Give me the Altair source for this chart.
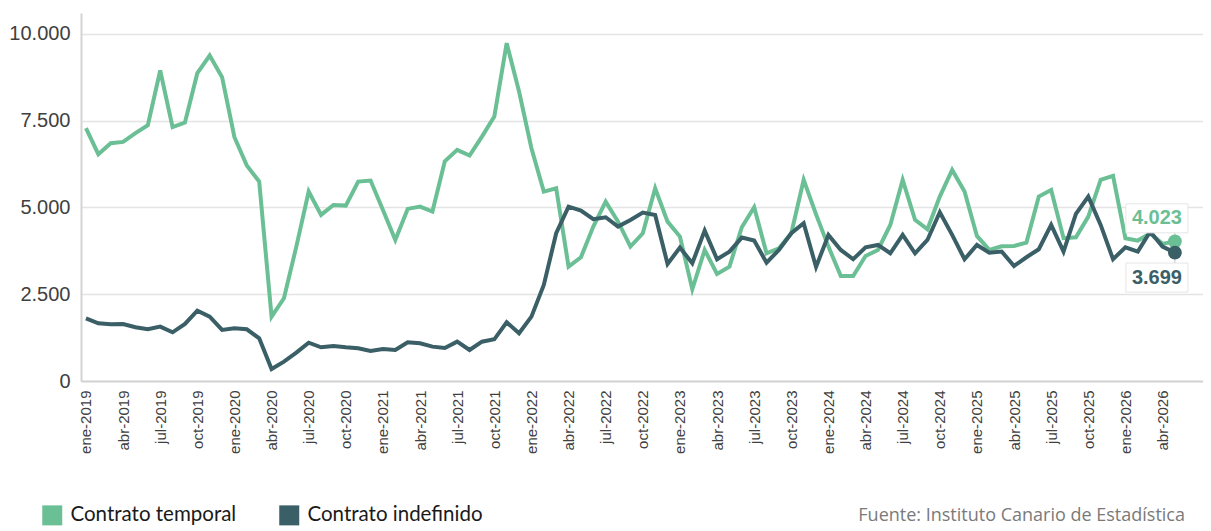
import altair as alt
import pandas as pd

MESES = ["ene", "feb", "mar", "abr", "may", "jun", "jul", "ago", "sep", "oct", "nov", "dic"]
ANIO_INICIO = 2019
N = 89
periodos = [f"{MESES[k % 12]}-{ANIO_INICIO + k // 12}" for k in range(N)]

SERIES = ["Contrato temporal", "Contrato indefinido"]
COLORES = ["#6BBF95", "#3A5F66"]
FUENTE = "Fuente: Instituto Canario de Estadística"

temporal = [
    7282, 6533, 6850, 6888, 7138, 7368, 8943, 7311, 7444, 8867, 9375, 8752,
    7023, 6205, 5744, 1853, 2383, 3871, 5456, 4784, 5072, 5053, 5744, 5773,
    4928, 4063, 4957, 5024, 4880, 6330, 6657, 6494, 7041, 7617, 9731, 8338,
    6705, 5456, 5553, 3294, 3564, 4447, 5167, 4591, 3871, 4256, 5553, 4591,
    4160, 2643, 3775, 3084, 3294, 4429, 5005, 3679, 3823, 4256, 5792, 4800,
    3871, 3026, 3026, 3602, 3775, 4496, 5792, 4640, 4371, 5312, 6081, 5456,
    4179, 3775, 3880, 3890, 3986, 5312, 5504, 4112, 4141, 4735, 5792, 5908,
    4112, 4044, 4250, 3950, 4023,
]
indefinido = [
    1806, 1662, 1633, 1643, 1547, 1489, 1566, 1403, 1643, 2027, 1854, 1470,
    1518, 1489, 1230, 346, 557, 817, 1104, 971, 1009, 971, 942, 865,
    922, 893, 1115, 1086, 990, 950, 1133, 893, 1133, 1201, 1692, 1374,
    1854, 2767, 4256, 5024, 4908, 4659, 4717, 4447, 4640, 4850, 4784, 3372,
    3842, 3391, 4332, 3507, 3727, 4131, 4044, 3410, 3775, 4256, 4544, 3285,
    4208, 3775, 3507, 3852, 3919, 3679, 4208, 3679, 4063, 4861, 4208, 3507,
    3919, 3698, 3730, 3314, 3564, 3795, 4496, 3727, 4813, 5312, 4496, 3507,
    3852, 3727, 4303, 3871, 3699,
]

rows = []
for serie, vals in zip(SERIES, [temporal, indefinido]):
    for k, v in enumerate(vals):
        rows.append({"i": k, "periodo": periodos[k], "serie": serie, "valor": v})
df = pd.DataFrame(rows)
df_last = df[df["i"] == N - 1]

label_arr = "[" + ",".join(f"'{p}'" for p in periodos) + "]"

X = alt.X(
    "i:Q",
    title=None,
    scale=alt.Scale(domain=[-0.4, 90.27], nice=False, zero=False),
    axis=alt.Axis(
        values=list(range(0, N, 3)),
        labelExpr=label_arr + "[datum.value]",
        labelAngle=270,
        grid=False,
        ticks=False,
        domain=True,
        domainColor="#d4d4d4",
        domainWidth=2,
        labelFont="Liberation Sans",
        labelFontSize=15,
        labelColor="#404040",
        labelPadding=9,
        labelOverlap=False,
        labelFlush=False,
    ),
)
Y = alt.Y(
    "valor:Q",
    title=None,
    scale=alt.Scale(domain=[0, 10600], nice=False),
    axis=alt.Axis(
        values=[0, 2500, 5000, 7500, 10000],
        labelExpr="replace(format(datum.value, ','), ',', '.')",
        grid=True,
        gridColor="#e4e4e4",
        gridWidth=1.5,
        ticks=False,
        domain=True,
        domainColor="#d4d4d4",
        domainWidth=2,
        labelFont="Liberation Sans",
        labelFontSize=20,
        labelColor="#404040",
        labelPadding=11,
        minExtent=73,
        maxExtent=73,
    ),
)

COLOR = alt.Color(
    "serie:N",
    scale=alt.Scale(domain=SERIES, range=COLORES),
    legend=alt.Legend(
        title=None,
        orient="none",
        legendX=-39,
        legendY=492,
        direction="horizontal",
        symbolType="square",
        symbolSize=400,
        symbolStrokeWidth=0,
        symbolOpacity=1,
        labelFont="Lato",
        labelFontSize=20.5,
        labelColor="#1a1a1a",
        labelOffset=8,
        columnPadding=42,
        labelLimit=400,
    ),
)

lines = alt.Chart(df).mark_line(strokeWidth=4).encode(
    x=X, y=Y, color=COLOR, detail="serie:N",
)

RECT = "M-1,-0.468H1V0.468H-1Z"
layers = [lines]
for idx, (serie, color) in enumerate(zip(SERIES, COLORES)):
    d = df_last[df_last["serie"] == serie]
    off = -23 if idx == 0 else 25
    conn = alt.Chart(d).mark_rule(color="#c4c4c4", strokeWidth=1, y2Offset=-10 if idx == 0 else 11).encode(
        x=X, y=Y, y2=alt.Y2("valor")
    )
    box = alt.Chart(d).mark_point(
        shape=RECT, size=3844, filled=True, fill="white", stroke="#e6e6e6",
        strokeWidth=1, opacity=1, xOffset=-18, yOffset=off,
    ).encode(x=X, y=Y)
    txt = alt.Chart(d).transform_calculate(
        etiqueta="replace(format(datum.valor, ','), ',', '.')"
    ).mark_text(
        dx=-18, dy=off, font="Liberation Sans", fontSize=20, fontWeight="bold",
        color=color, align="center", baseline="middle",
    ).encode(x=X, y=Y, text="etiqueta:N")
    layers += [conn, box, txt]

circles = alt.Chart(df_last).mark_circle(size=190, opacity=1).encode(
    x=X, y=Y, color=COLOR,
)
layers.append(circles)

fuente = alt.Chart(pd.DataFrame({"t": [FUENTE]})).mark_text(
    align="right", baseline="alphabetic", font="Open Sans", fontSize=18, color="#7a7a7a"
).encode(x=alt.value(1104), y=alt.value(508), text="t:N")
layers.append(fuente)

chart = alt.layer(*layers).properties(
    width=1122,
    height=368,
    padding={"left": 0, "top": 5, "right": 0, "bottom": 0},
    background="white",
).configure_view(stroke=None)

chart.save("out.html", embed_options={"renderer": "svg", "actions": False})
